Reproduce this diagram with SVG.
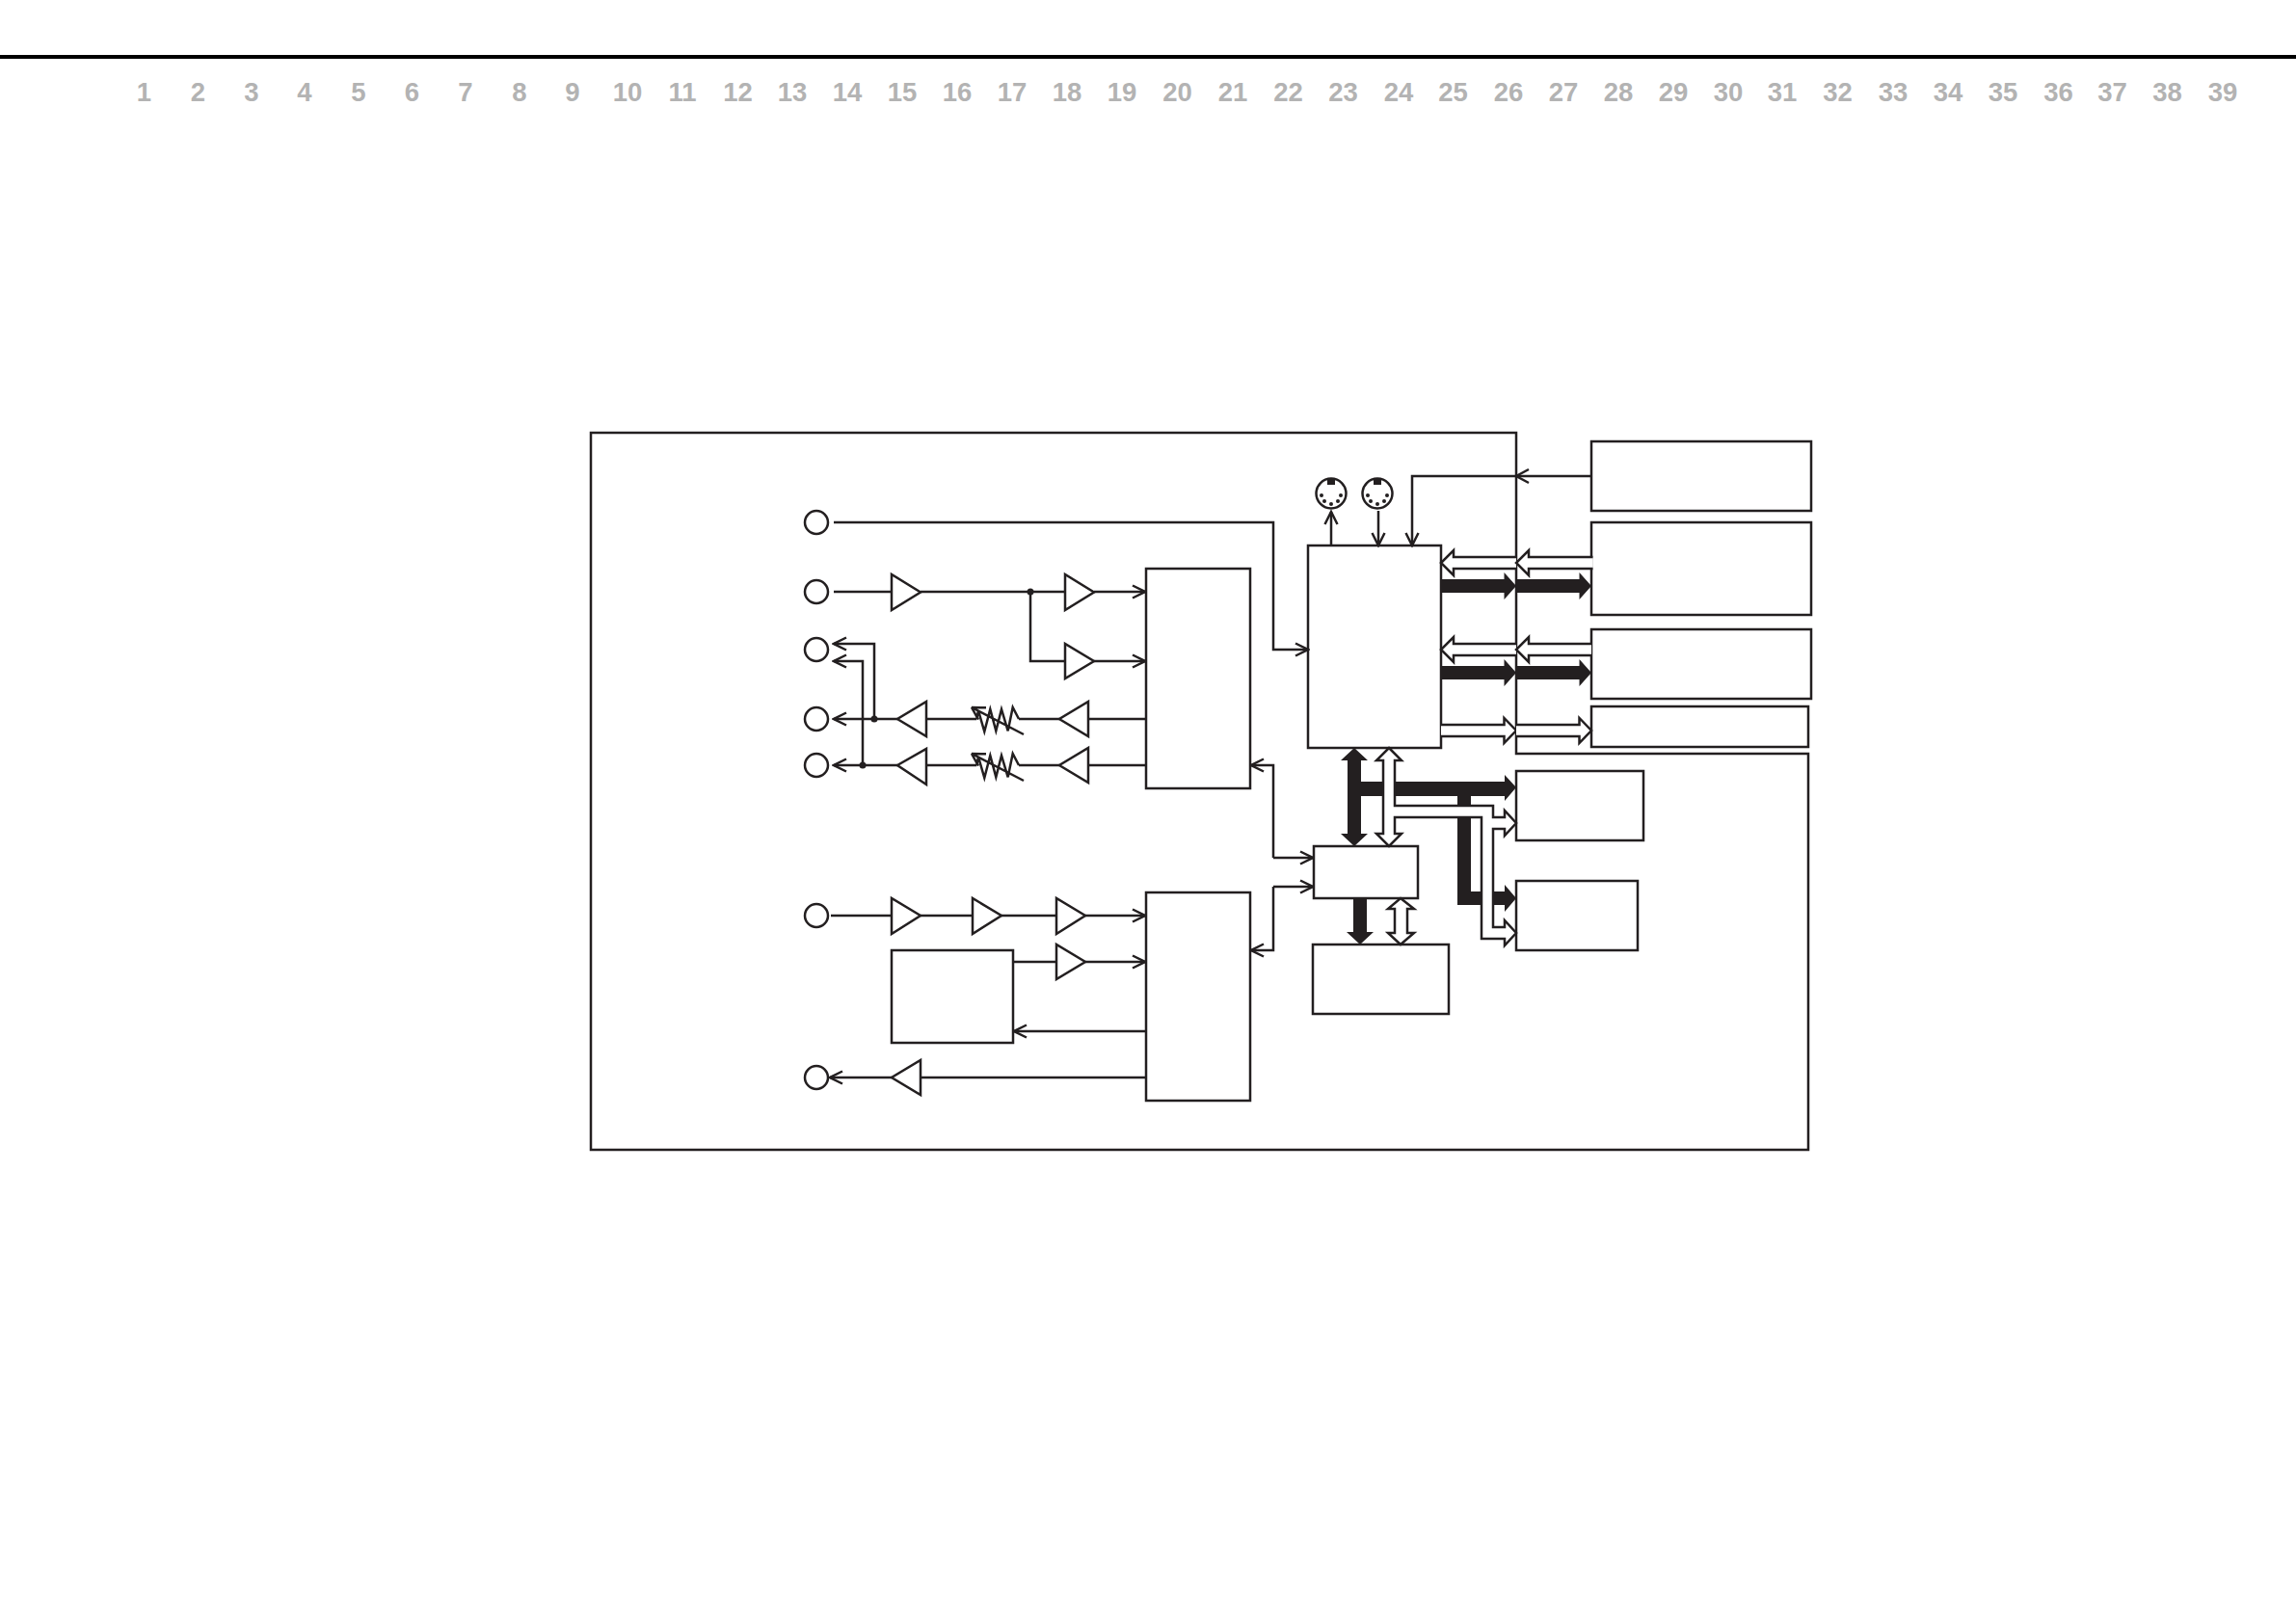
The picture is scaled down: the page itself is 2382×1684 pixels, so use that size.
<svg xmlns="http://www.w3.org/2000/svg" width="2382" height="1684" viewBox="0 0 2382 1684">
<style>
.n{font:bold 27.5px "Liberation Sans",Arial,sans-serif;fill:#b3b3b3;text-anchor:middle}
.s{fill:#fff;stroke:#231f20;stroke-width:2.5}
.l{fill:none;stroke:#231f20;stroke-width:2.5}
.a{marker-end:url(#arr)}
.b{fill:#231f20;stroke:none}
.p{fill:#231f20}
</style>
<defs>
<marker id="arr" markerUnits="userSpaceOnUse" viewBox="-15 -9 17 18" markerWidth="17" markerHeight="18" refX="0" refY="0" orient="auto">
<path d="M-13,-6.500L0,0L-13,6.500" fill="none" stroke="#231f20" stroke-width="2.500"/>
</marker>
<g id="din">
<circle r="15.500" class="s"/><rect x="-4" y="-15" width="8" height="6" class="p"/>
<circle cx="-10" cy="2" r="2" class="p"/><circle cx="10" cy="2" r="2" class="p"/><circle cx="-7" cy="8" r="2" class="p"/><circle cx="7" cy="8" r="2" class="p"/><circle cy="11" r="2" class="p"/>
</g>
<path id="res" class="l" d="M1057,746L1050.700,734L1045.700,758.300L1039,736L1033.300,758.300L1027.300,736L1021.300,759L1015,737.300L1013.300,746M1062,762L1008,734L1023,734.300M1008,734L1015,746.700"/>
</defs>
<rect width="2382" height="1684" fill="#fff"/>
<rect id="top-rule" x="0" y="57" width="2382" height="4" fill="#000"/>
<g id="ruler">
<text class="n" x="149.500" y="105">1</text><text class="n" x="205.500" y="105">2</text><text class="n" x="261" y="105">3</text><text class="n" x="316" y="105">4</text><text class="n" x="372" y="105">5</text><text class="n" x="427.500" y="105">6</text><text class="n" x="483" y="105">7</text><text class="n" x="539" y="105">8</text><text class="n" x="594" y="105">9</text>
<text class="n" x="651" y="105">10</text><text class="n" x="708" y="105">11</text><text class="n" x="765.500" y="105">12</text><text class="n" x="822" y="105">13</text><text class="n" x="879" y="105">14</text><text class="n" x="936" y="105">15</text><text class="n" x="993" y="105">16</text><text class="n" x="1050" y="105">17</text><text class="n" x="1107" y="105">18</text><text class="n" x="1164" y="105">19</text><text class="n" x="1221.500" y="105">20</text><text class="n" x="1279" y="105">21</text><text class="n" x="1336.500" y="105">22</text><text class="n" x="1393.500" y="105">23</text><text class="n" x="1451" y="105">24</text><text class="n" x="1507.500" y="105">25</text><text class="n" x="1565" y="105">26</text><text class="n" x="1622" y="105">27</text><text class="n" x="1679" y="105">28</text><text class="n" x="1736" y="105">29</text><text class="n" x="1793" y="105">30</text><text class="n" x="1849" y="105">31</text><text class="n" x="1906.500" y="105">32</text><text class="n" x="1964" y="105">33</text><text class="n" x="2021" y="105">34</text><text class="n" x="2078" y="105">35</text><text class="n" x="2135.500" y="105">36</text><text class="n" x="2191.500" y="105">37</text><text class="n" x="2248.500" y="105">38</text><text class="n" x="2306" y="105">39</text>
</g>
<path id="frame" class="l" d="M613,449H1573V782H1876V1193H613Z"/>
<g id="nodes">
<g id="jack1"><circle class="s" cx="847" cy="542" r="12"/></g>
<g id="jack2"><circle class="s" cx="847" cy="614" r="12"/></g>
<g id="jack3"><circle class="s" cx="847" cy="674" r="12"/></g>
<g id="jack4"><circle class="s" cx="847" cy="746" r="12"/></g>
<g id="jack5"><circle class="s" cx="847" cy="794" r="12"/></g>
<g id="jack6"><circle class="s" cx="847" cy="950" r="12"/></g>
<g id="jack7"><circle class="s" cx="847" cy="1118" r="12"/></g>
<g id="amp1"><path class="s" d="M925,596V633L955,614.500Z"/></g>
<g id="amp2"><path class="s" d="M1105,596V633L1135,614.500Z"/></g>
<g id="amp3"><path class="s" d="M1105,668V704L1135,686Z"/></g>
<g id="amp4"><path class="s" d="M961,728V764L931,746Z"/></g>
<g id="amp5"><path class="s" d="M1129,728V764L1099,746Z"/></g>
<g id="amp6"><path class="s" d="M961,777V814L931,794Z"/></g>
<g id="amp7"><path class="s" d="M1129,776V812L1099,794Z"/></g>
<g id="amp8"><path class="s" d="M925,932V969L955,950Z"/></g>
<g id="amp9"><path class="s" d="M1009,932V969L1039,950Z"/></g>
<g id="amp10"><path class="s" d="M1096,932V969L1126,950Z"/></g>
<g id="amp11"><path class="s" d="M1096,980V1016L1126,998Z"/></g>
<g id="amp12"><path class="s" d="M955,1100V1136L925,1118Z"/></g>
<g id="vr1"><use href="#res"/></g>
<g id="vr2"><use href="#res" y="48"/></g>
<g id="block-upper"><rect class="s" x="1189" y="590" width="108" height="228"/></g>
<g id="block-lower"><rect class="s" x="1189" y="926" width="108" height="216"/></g>
<g id="block-left"><rect class="s" x="925" y="986" width="126" height="96"/></g>
<g id="block-main"><rect class="s" x="1357" y="566" width="138" height="210"/></g>
<g id="block-small"><rect class="s" x="1363" y="878" width="108" height="54"/></g>
<g id="block-bottom"><rect class="s" x="1362" y="980" width="141" height="72"/></g>
<g id="block-e"><rect class="s" x="1573" y="800" width="132" height="72"/></g>
<g id="block-f"><rect class="s" x="1573" y="914" width="126" height="72"/></g>
<g id="block-a"><rect class="s" x="1651" y="458" width="228" height="72"/></g>
<g id="block-b"><rect class="s" x="1651" y="542" width="228" height="96"/></g>
<g id="block-c"><rect class="s" x="1651" y="653" width="228" height="72"/></g>
<g id="block-d"><rect class="s" x="1651" y="733" width="225" height="42"/></g>
<g id="din1"><use href="#din" x="1381" y="512"/></g>
<g id="din2"><use href="#din" x="1429" y="512"/></g>
</g>
<g id="connectors">
<path class="l a" d="M865,542H1321V674H1357"/>
<path class="l" d="M865,614H925M955,614H1105"/>
<path class="l a" d="M1135,614H1188"/>
<path class="l" d="M1069,614V686H1105"/>
<path class="l a" d="M1135,686H1188"/>
<path class="l" d="M1189,746H1129M1099,746H1057M1013,746H961"/>
<path class="l a" d="M931,746H865"/>
<path class="l a" d="M907,746V668H865"/>
<path class="l" d="M1189,794H1129M1099,794H1057M1013,794H961"/>
<path class="l a" d="M931,794H865"/>
<path class="l a" d="M895,794V686H865"/>
<circle class="p" cx="1069" cy="614" r="3.500"/>
<circle class="p" cx="907" cy="746" r="3.500"/>
<circle class="p" cx="895" cy="794" r="3.500"/>
<path class="l" d="M862,950H925M955,950H1009M1039,950H1096"/>
<path class="l a" d="M1126,950H1188"/>
<path class="l" d="M1051,998H1096"/>
<path class="l a" d="M1126,998H1188"/>
<path class="l a" d="M1189,1070H1052"/>
<path class="l a" d="M1189,1118H955M925,1118H861"/>
<path class="l a" d="M1321,890V794H1298"/>
<path class="l a" d="M1321,890H1362"/>
<path class="l a" d="M1321,920V986H1298"/>
<path class="l a" d="M1321,920H1362"/>
<path class="l a" d="M1651,494H1465V566"/>
<path class="l" d="M1586,487L1573,494L1586,501"/>
<path class="l a" d="M1381,566V531"/>
<path class="l a" d="M1430,530V566"/>
<path class="s" d="M1573,578H1508V571L1495,584L1508,597V590H1573"/>
<path class="s" d="M1652.500,578H1586V571L1573,584L1586,597V590H1652.500"/>
<path class="s" d="M1573,668H1508V661L1495,674L1508,687V680H1573"/>
<path class="s" d="M1651,668H1586V661L1573,674L1586,687V680H1651"/>
<path class="s" d="M1495,752H1560.500V745L1573,758L1560.500,771V764H1495"/>
<path class="s" d="M1573,752H1638.500V745L1651,758L1638.500,771V764H1573"/>
<path class="b" d="M1495,601H1560.500V594L1573,608L1560.500,622V615H1495Z"/>
<path class="b" d="M1573,601H1638.500V594L1651,608L1638.500,622V615H1573Z"/>
<path class="b" d="M1495,691H1560.500V684L1573,698L1560.500,712V705H1495Z"/>
<path class="b" d="M1573,691H1638.500V684L1651,698L1638.500,712V705H1573Z"/>
<path class="b" d="M1405,776L1419,789H1412V865H1419L1405,878L1391,865H1398V789H1391Z"/>
<path class="b" d="M1412,811H1561V804L1573,817L1561,831V826H1526V925H1561V918L1573,932L1561,946V939H1512V826H1412Z"/>
<path class="s" d="M1441,776L1454,789H1447V836H1549V848H1561V841L1573,854L1561,867V860H1549V962H1561V955L1573,968L1561,981V974H1537V848H1447V865H1454L1441,878L1428,865H1435V789H1428Z"/>
<path class="b" d="M1404,932H1418V967H1425L1411,980L1397,967H1404Z"/>
<path class="s" d="M1453,932L1467,943H1460V968H1467L1453,980L1440,968H1447V943H1440Z"/>
</g>
</svg>
